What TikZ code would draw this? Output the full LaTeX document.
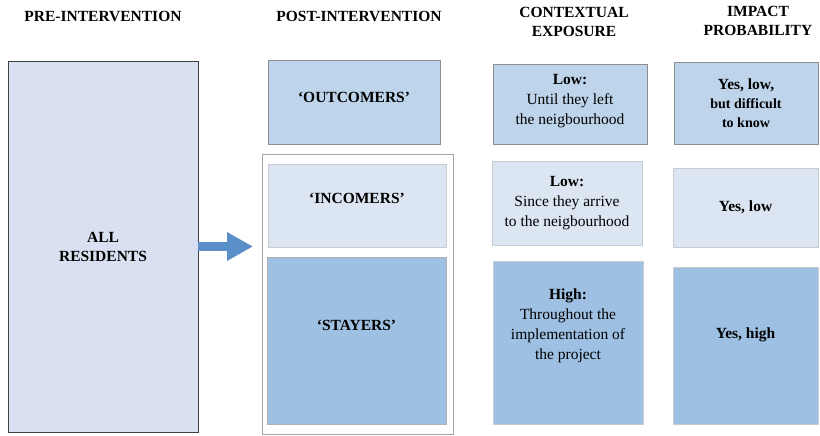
\documentclass[tikz,border=0pt]{standalone}
\usepackage{fontspec}
\setmainfont{Liberation Serif}
\usetikzlibrary{arrows.meta}

\definecolor{lavender}{HTML}{D9E0F1}
\definecolor{midblue}{HTML}{BDD4EA}
\definecolor{paleblue}{HTML}{DCE6F2}
\definecolor{deepblue}{HTML}{9EC0E2}
\definecolor{arrowblue}{HTML}{5B8FCA}
\definecolor{edgegray}{HTML}{8E8E8E}
\definecolor{lightedge}{HTML}{C8CCD2}

\newcommand{\smallerbf}{\fontsize{14}{19}\selectfont}

\tikzset{
  cell/.style={draw=#1, line width=0.8pt, anchor=north west, inner sep=0pt, outer sep=0pt},
  txt/.style={align=center, inner sep=0pt, font=\fontsize{15.5}{20}\selectfont},
  boldtxt/.style={align=center, inner sep=0pt, font=\bfseries\fontsize{15.5}{19}\selectfont},
  head/.style={align=center, font=\bfseries\fontsize{15.5}{19}\selectfont},
  bigarrow/.style={arrowblue, line width=9pt, shorten >=9pt, -{Triangle[length=26pt,width=27pt]}}
}

\begin{document}
\begin{tikzpicture}[x=1pt, y=-1pt]
  \useasboundingbox (0,0) rectangle (820,436);

  % Column headings
  \node[head] (pre)     at (103,16)  {PRE-INTERVENTION};
  \node[head] (post)    at (359,16)  {POST-INTERVENTION};
  \node[head] (ctxhead) at (574,22)  {CONTEXTUAL\\EXPOSURE};
  \node[head] (imphead) at (758,21)  {IMPACT\\PROBABILITY};

  % Whole population before the intervention
  \node[cell=black!75, fill=lavender, minimum width=190, minimum height=371] (res) at (8,61) {};

  % Frame around the ones living there afterwards
  \node[cell=edgegray!80, fill=white, minimum width=191, minimum height=280] (group) at (262,154) {};

  % Groups after the intervention
  \node[cell=edgegray, fill=midblue, minimum width=172, minimum height=84] (outcomers) at (268,60) {};
  \node[cell=lightedge, fill=paleblue, minimum width=178, minimum height=83] (incomers) at (268,164) {};
  \node[cell=edgegray!70, fill=deepblue, minimum width=179, minimum height=167] (stayers) at (267,257) {};

  % Contextual exposure
  \node[cell=edgegray, fill=midblue, minimum width=154, minimum height=80] (ctxlow) at (493,64) {};
  \node[cell=lightedge, fill=paleblue, minimum width=150, minimum height=84] (ctxarr) at (492,161) {};
  \node[cell=lightedge, fill=deepblue, minimum width=150, minimum height=163] (ctxhigh) at (493,261) {};

  % Impact probability
  \node[cell=edgegray, fill=midblue, minimum width=144, minimum height=82] (implow) at (674,62) {};
  \node[cell=lightedge, fill=paleblue, minimum width=145, minimum height=79] (impyes) at (673,168) {};
  \node[cell=lightedge, fill=deepblue, minimum width=145, minimum height=157] (imphigh) at (673,267) {};

  % Texts inside the boxes
  \node[boldtxt] (restxt) at (res.center) {ALL\\RESIDENTS};
  \node[boldtxt] (outtxt) at ([yshift=5pt]outcomers.center) {`OUTCOMERS'};
  \node[boldtxt] (intxt) at ([yshift=7pt]incomers.center) {`INCOMERS'};
  \node[boldtxt] (staytxt) at ([yshift=15pt]stayers.center) {`STAYERS'};

  \node[txt] (ctxlowtxt) at ([yshift=3pt]ctxlow.center) {\textbf{Low:}\\Until they left\\the neigbourhood};
  \node[txt] (ctxarrtxt) at (ctxarr.center) {\textbf{Low:}\\Since they arrive\\to the neigbourhood};
  \node[txt] (ctxhightxt) at ([yshift=17pt]ctxhigh.center) {\textbf{High:}\\Throughout the\\implementation of\\the project};

  \node[boldtxt] (implowtxt) at (implow.center) {Yes, low,\\\smallerbf but difficult\\\smallerbf to know};
  \node[boldtxt] (impyestxt) at (impyes.center) {Yes, low};
  \node[boldtxt] (imphightxt) at ([yshift=11pt]imphigh.center) {Yes, high};

  % From before to after
  \draw[bigarrow] (res.east) -- (group.west |- res.east);
\end{tikzpicture}
\end{document}
